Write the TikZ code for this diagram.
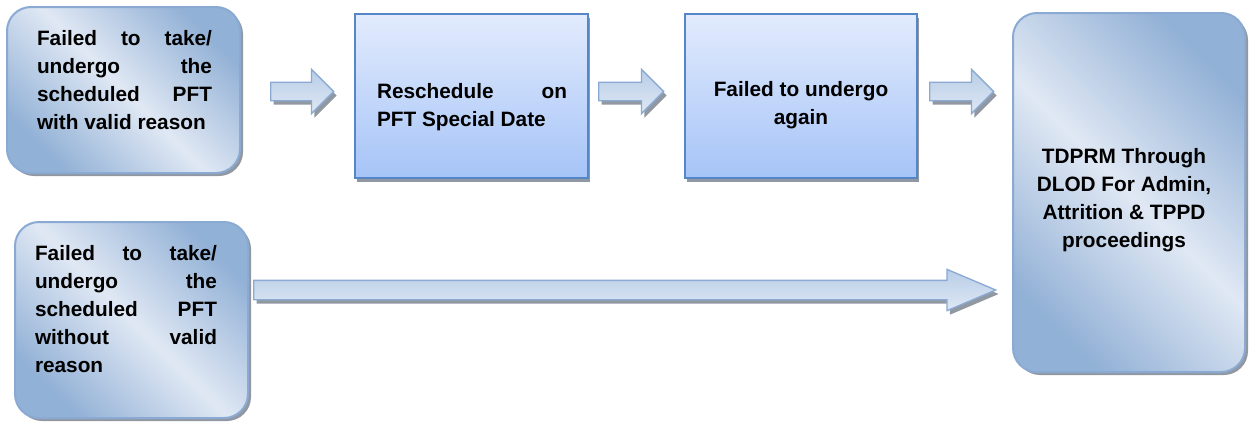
\documentclass[tikz,border=0pt]{standalone}
\usepackage{fontspec}
\setmainfont{Liberation Sans}
\usetikzlibrary{shapes.arrows}
\usetikzlibrary{shadows}

\definecolor{softdark}{RGB}{146,177,214}
\definecolor{softlight}{RGB}{224,232,244}
\definecolor{softline}{RGB}{138,170,211}
\definecolor{flattop}{RGB}{226,235,253}
\definecolor{flatbottom}{RGB}{166,196,247}
\definecolor{flatline}{RGB}{84,134,200}
\definecolor{arrowtop}{RGB}{184,205,231}
\definecolor{arrowbottom}{RGB}{223,232,244}
\definecolor{shadowgray}{RGB}{145,152,162}

\hyphenpenalty=10000

\tikzset{
    softbox/.style={draw=softline, line width=1.5pt, rounded corners=18pt,
        top color=softdark, bottom color=softdark, middle color=softlight, shading angle=-45,
        drop shadow={shadow xshift=2.25pt, shadow yshift=-2.25pt, fill=shadowgray, opacity=1}},
    flatbox/.style={draw=flatline, line width=1.5pt,
        top color=flattop, bottom color=flatbottom,
        drop shadow={shadow xshift=1.5pt, shadow yshift=-3pt, fill=shadowgray, opacity=1}},
    boxtext/.style={font=\bfseries\fontsize{15.6}{21}\selectfont, inner sep=0pt},
    blockarrow/.style={single arrow, draw=softline, line width=1pt, anchor=tail,
        inner xsep=0pt, text height=0pt, text depth=0pt,
        top color=arrowtop, bottom color=arrowbottom,
        drop shadow={shadow xshift=2.25pt, shadow yshift=-3pt, fill=shadowgray, opacity=1}}
}

\begin{document}
\begin{tikzpicture}[x=0.75pt, y=-0.75pt]
    \useasboundingbox (0,0) rectangle (1249,422);

    % Casillas redondeadas
    \node[softbox, minimum width=174.75pt, minimum height=124.5pt] (failvalid) at (123.5,90) {};
    \node[softbox, minimum width=174.75pt, minimum height=147pt] (failnovalid) at (131.5,320) {};
    \node[softbox, minimum width=174pt, minimum height=269.25pt] (tdprm) at (1129,192.5) {};

    % Casillas rectas del medio
    \node[flatbox, minimum width=174.75pt, minimum height=123pt] (resched) at (471.5,96) {};
    \node[flatbox, minimum width=174pt, minimum height=123pt] (againfail) at (801,96) {};

    % Textos de las casillas
    \node[boxtext, text width=131.25pt, align=justify] (failvalidtext) at (124.5,80.5)
        {Failed to take/\linebreak undergo the\linebreak scheduled PFT\linebreak with valid reason};
    \node[boxtext, text width=136.5pt, align=justify] (failnovalidtext) at (126,309)
        {Failed to take/\linebreak undergo the\linebreak scheduled PFT\linebreak without valid\linebreak reason};
    \node[boxtext, text width=142.5pt, align=justify] (reschedtext) at (472,107.5)
        {Reschedule on\linebreak PFT Special Date};
    \node[boxtext, align=center] (againfailtext) at (801,105.5) {Failed to undergo\\again};
    \node[boxtext, align=center] (tdprmtext) at (1124,200)
        {TDPRM Through\\DLOD For Admin,\\Attrition \& TPPD\\proceedings};

    % Flechas de bloque
    \foreach \x/\len/\n in {270/47.25/go1, 598/48.75/go2, 929/48/go3} {
        \node[blockarrow, minimum height=\len pt, inner ysep=6.4pt,
            single arrow head extend=9.75pt, single arrow tip angle=90] (\n) at (\x,91.5) {};
    }
    \node[blockarrow, minimum height=556.5pt, inner ysep=6.75pt,
        single arrow head extend=8.25pt, single arrow tip angle=46] (go4) at (253,290) {}; % flecha larga

\end{tikzpicture}
\end{document}
